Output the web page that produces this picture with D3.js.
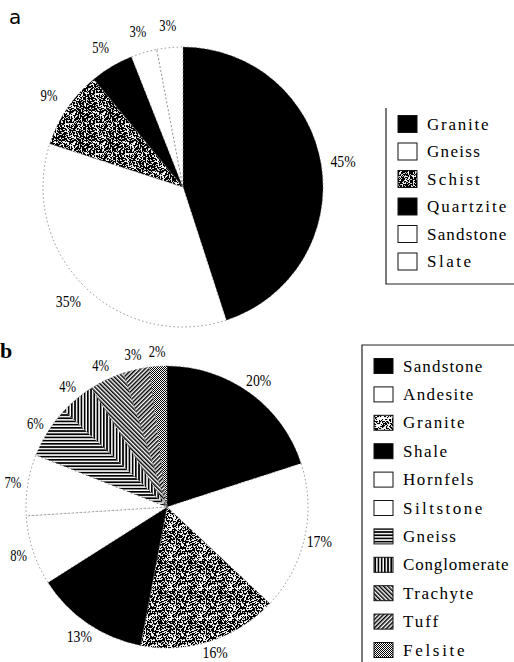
<!DOCTYPE html>
<html><head><meta charset="utf-8">
<script src="https://cdn.jsdelivr.net/npm/d3@7"></script>
<style>html,body{margin:0;padding:0;background:#fff;}svg{display:block;}</style>
</head><body>
<script>
// ---- data ----
const catsA = ["Granite","Gneiss","Schist","Quartzite","Sandstone","Slate"];
const valsA = [45,35,9,5,3,3];
const catsB = ["Sandstone","Andesite","Granite","Shale","Hornfels","Siltstone","Gneiss","Conglomerate","Trachyte","Tuff","Felsite"];
const valsB = [20,17,16,13,8,7,6,4,4,3,2];
const panelLabels = ["a","b"];

// ---- styles ----
const fillA = ["black","white","url(#stipple)","black","white","white"];
const fillB = ["black","white","url(#stipple2)","black","white","white","url(#hstripe)","url(#vstripe)","url(#bslash)","url(#fslash)","url(#checker)"];

const W = 514, H = 662;
const svg = d3.select("body").append("svg").attr("width", W).attr("height", H);
const defs = svg.append("defs");

// deterministic texture generator (texture only, not data)
function lcg(seed){ let s = seed; return () => { s = (s * 1664525 + 1013904223) % 4294967296; return s / 4294967296; }; }
function stipple(id, density, seed){
  const p = defs.append("pattern").attr("id", id).attr("patternUnits","userSpaceOnUse").attr("width",30).attr("height",30);
  p.append("rect").attr("width",30).attr("height",30).attr("fill","white");
  const r = lcg(seed);
  for (let y=0;y<30;y++) for (let x=0;x<30;x++) if (r() < density) p.append("rect").attr("x",x).attr("y",y).attr("width",1.1).attr("height",1.1).attr("fill","black");
}
stipple("stipple", 0.6, 7);
stipple("stipple2", 0.55, 11);
stipple("stippleL", 0.38, 5);
{
  const p = defs.append("pattern").attr("id","hstripe").attr("patternUnits","userSpaceOnUse").attr("width",4).attr("height",3.2);
  p.append("rect").attr("width",4).attr("height",3.2).attr("fill","white");
  p.append("rect").attr("width",4).attr("height",1.7).attr("fill","black");
}
{
  const p = defs.append("pattern").attr("id","vstripe").attr("patternUnits","userSpaceOnUse").attr("width",3.2).attr("height",4);
  p.append("rect").attr("width",3.2).attr("height",4).attr("fill","white");
  p.append("rect").attr("width",1.7).attr("height",4).attr("fill","black");
}
function diag(id, angle){
  const p = defs.append("pattern").attr("id",id).attr("patternUnits","userSpaceOnUse").attr("width",3).attr("height",6).attr("patternTransform",`rotate(${angle})`);
  p.append("rect").attr("width",3).attr("height",6).attr("fill","white");
  p.append("rect").attr("width",1.5).attr("height",6).attr("fill","black");
}
diag("bslash", -45);
diag("fslash", 45);
{
  const p = defs.append("pattern").attr("id","checker").attr("patternUnits","userSpaceOnUse").attr("width",2).attr("height",2);
  p.append("rect").attr("width",2).attr("height",2).attr("fill","white");
  p.append("rect").attr("width",1).attr("height",1).attr("fill","black");
  p.append("rect").attr("x",1).attr("y",1).attr("width",1).attr("height",1).attr("fill","black");
}

const textFont = "'Liberation Serif', 'DejaVu Serif', serif";

function drawPie(cx, cy, r, labR, cats, vals, fills){
  const g = svg.append("g").attr("transform", `translate(${cx},${cy})`);
  const pie = d3.pie().sort(null).value(d => d)(vals);
  const arc = d3.arc().innerRadius(0).outerRadius(r);
  const lab = d3.arc().innerRadius(labR).outerRadius(labR);
  g.selectAll("path.s").data(pie).join("path").attr("class","s")
    .attr("d", arc).attr("fill", (d,i) => fills[i])
    .attr("stroke", "#666").attr("stroke-width", 0.7).attr("stroke-dasharray", "1.5,2.5");
  const maxY = H - 10 - cy;
  g.selectAll("text.l").data(pie).join("text").attr("class","l")
    .attr("transform", d => { const [x, y] = lab.centroid(d); return `translate(${x},${Math.min(y, maxY)})`; })
    .attr("text-anchor","middle").attr("dominant-baseline","central")
    .attr("font-family", textFont).attr("font-size", 16)
    .attr("textLength", d => (String(d.data).length + 1) * 8.4).attr("lengthAdjust","spacingAndGlyphs")
    .text(d => d.data + "%");
}

function drawLegend(x0, y0, dy, sw, sh, cats, fills){
  const g = svg.append("g");
  cats.forEach((c, i) => {
    const y = y0 + i * dy;
    g.append("rect").attr("x", x0).attr("y", y - sh/2).attr("width", sw).attr("height", sh)
      .attr("fill", fills[i]).attr("stroke", "#111").attr("stroke-width", 1);
    g.append("text").attr("x", x0 + sw + 10).attr("y", y).attr("dominant-baseline","central")
      .attr("font-family", textFont).attr("font-size", 17)
      .attr("textLength", c.length * 8.8).attr("lengthAdjust","spacing")
      .text(c);
  });
}

// panel a
drawPie(183, 187, 140, 162, catsA, valsA, fillA);
drawLegend(398, 124, 27.5, 19, 17, catsA, fillA);
svg.append("path").attr("d","M386,108 V284 H514").attr("fill","none").attr("stroke","#222").attr("stroke-width",1.2);

// panel b
drawPie(167, 507, 141, 156, catsB, valsB, fillB);
drawLegend(374, 366, 28.4, 19, 15, catsB, fillB.map((f,i) => i === 2 ? "url(#stippleL)" : f));
svg.append("path").attr("d","M514,345 H362 V662").attr("fill","none").attr("stroke","#222").attr("stroke-width",1.2);

// panel letters
svg.append("text").attr("x", 9).attr("y", 24).attr("font-family","'DejaVu Sans', sans-serif").attr("font-size", 20).text(panelLabels[0]);
svg.append("text").attr("x", 0).attr("y", 358).attr("font-family", textFont).attr("font-weight","bold").attr("font-size", 22).text(panelLabels[1]);
</script>
</body></html>
